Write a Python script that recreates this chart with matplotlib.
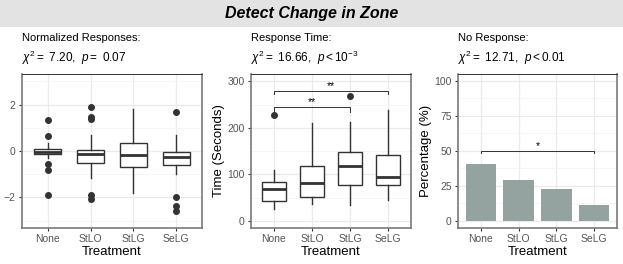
import matplotlib
matplotlib.use("Agg")
import matplotlib.pyplot as plt
from matplotlib.patches import Rectangle

plt.rcParams['font.family'] = ['Liberation Sans', 'DejaVu Sans']
plt.rcParams['mathtext.fontset'] = 'custom'
plt.rcParams['mathtext.rm'] = 'Liberation Sans'
plt.rcParams['mathtext.it'] = 'Liberation Sans:italic'

treatments = ["None", "StLO", "StLG", "SeLG"]

# normalized responses: box stats (whislo, q1, med, q3, whishi) + outliers
norm_stats = [
    (-0.31, -0.13, -0.03, 0.07, 0.33),
    (-1.16, -0.50, -0.11, 0.03, 0.68),
    (-1.80, -0.70, -0.17, 0.34, 1.83),
    (-1.00, -0.62, -0.27, -0.04, 0.68),
]
norm_fliers = [
    [1.33, 0.66, -0.55, -0.80, -1.90],
    [1.91, 1.46, 1.39, -1.89, -2.06],
    [],
    [1.66, -1.99, -2.38, -2.60],
]

# response time (seconds)
time_stats = [
    (26, 42, 69, 83, 109),
    (36, 52, 82, 119, 210),
    (35, 76, 117, 148, 213),
    (44, 77, 94, 142, 238),
]
time_fliers = [[227], [], [268], []]

# no response percentage
no_resp = [40.8, 29.6, 22.8, 11.5]

subtitles = ["Normalized Responses:", "Response Time:", "No Response:"]
stat_texts = [r"$\chi^2 =$ 7.20,  $p =$ 0.07",
              r"$\chi^2 =$ 16.66,  $p < 10^{-3}$",
              r"$\chi^2 =$ 12.71,  $p < 0.01$"]

fig = plt.figure(figsize=(6.23, 2.64), dpi=100)

# title band
fig.patches.append(Rectangle((0, 0.8977), 1, 0.1023, transform=fig.transFigure,
                             facecolor='#e3e3e3', edgecolor='none', zorder=0))
fig.text(0.5, 0.949, "Detect Change in Zone", ha='center', va='center',
         fontsize=11.5, fontweight='bold', fontstyle='italic')

ax1 = fig.add_axes([0.0353, 0.1364, 0.2889, 0.5833])
ax2 = fig.add_axes([0.4029, 0.1364, 0.2568, 0.5833])
ax3 = fig.add_axes([0.7352, 0.1364, 0.2552, 0.5833])
axes = [ax1, ax2, ax3]

x = list(range(len(treatments)))


def style_axis(ax, major, minor, ylim):
    ax.set_xlim(-0.6, 3.6)
    ax.set_ylim(*ylim)
    ax.set_yticks(major)
    ax.set_yticks(minor, minor=True)
    ax.set_xticks(x)
    ax.set_xticklabels(treatments)
    ax.grid(True, which='major', color='#ebebeb', lw=0.9, zorder=0)
    ax.grid(True, which='minor', axis='y', color='#f3f3f3', lw=0.5, zorder=0)
    ax.set_axisbelow(True)
    ax.tick_params(axis='both', which='major', labelsize=7.5, labelcolor='#555555',
                   color='#333333', length=2.5, width=0.8, pad=2)
    ax.tick_params(which='minor', length=0)
    for side in ['left', 'bottom', 'right']:
        ax.spines[side].set_color('#7a7a7a')
        ax.spines[side].set_linewidth(1.2)
    ax.spines['top'].set_color('#333333')
    ax.spines['top'].set_linewidth(0.7)
    ax.set_xlabel("Treatment", fontsize=9.5, labelpad=1)


def draw_boxes(ax, stats, fliers):
    bxp = []
    for s, f in zip(stats, fliers):
        bxp.append(dict(whislo=s[0], q1=s[1], med=s[2], q3=s[3], whishi=s[4], fliers=f))
    ax.bxp(bxp, positions=x, widths=0.64, showcaps=False, patch_artist=True,
           boxprops=dict(facecolor='white', edgecolor='#333333', lw=1.0),
           medianprops=dict(color='#333333', lw=2.0),
           whiskerprops=dict(color='#333333', lw=1.0),
           flierprops=dict(marker='o', markerfacecolor='#333333',
                           markeredgecolor='#333333', markersize=4),
           zorder=3)


draw_boxes(ax1, norm_stats, norm_fliers)
style_axis(ax1, [-2, 0, 2], [-3, -1, 1, 3], (-3.32, 3.32))

draw_boxes(ax2, time_stats, time_fliers)
style_axis(ax2, [0, 100, 200, 300], [50, 150, 250], (-15.5, 316))
ax2.set_ylabel("Time (Seconds)", fontsize=9.5, labelpad=2)

ax3.bar(x, no_resp, width=0.8, color='#95a3a0', zorder=3)
style_axis(ax3, [0, 25, 50, 75, 100], [12.5, 37.5, 62.5, 87.5], (-5, 105))
ax3.set_ylabel("Percentage (%)", fontsize=9.5, labelpad=2)


def bracket(ax, x0, x1, y, drop, label):
    ax.plot([x0, x0, x1, x1], [y - drop, y, y, y - drop], color='#333333', lw=0.7, zorder=4)
    ax.text((x0 + x1) / 2, y, label, ha='center', va='bottom', fontsize=7.5)


bracket(ax2, 0, 3, 280, 8, "**")
bracket(ax2, 0, 2, 245, 10, "**")
bracket(ax3, 0, 3, 50, 1.2, "*")

for ax, sub, st in zip(axes, subtitles, stat_texts):
    x0 = ax.get_position().x0
    fig.text(x0, 0.856, sub, ha='left', va='center', fontsize=8)
    fig.text(x0, 0.782, st, ha='left', va='center', fontsize=8.5)

plt.savefig("out.png", dpi=100)
